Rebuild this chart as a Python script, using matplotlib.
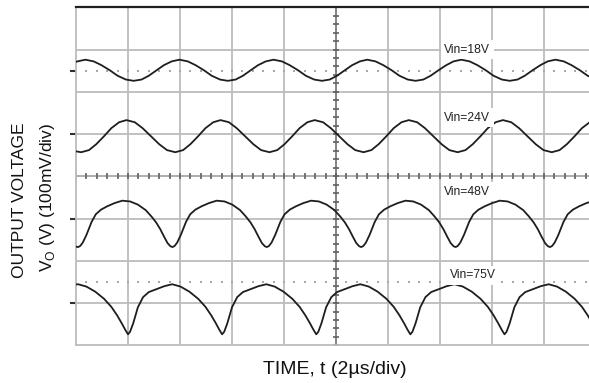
import numpy as np
import matplotlib
matplotlib.use('Agg')
import matplotlib.pyplot as plt

plt.rcParams['font.family'] = ['Liberation Sans', 'DejaVu Sans']

# ---- data (x in divisions: 1 div = 2 us ; y in divisions: 1 div = 100 mV) ----
labels = ['Vin=18V', 'Vin=24V', 'Vin=48V', 'Vin=75V']
ref_levels = [2.5, 1.0, -1.0, -3.0]

t1 = [0.00, 0.03, 0.18,
      0.34, 0.49, 0.65, 0.80, 0.96, 1.11, 1.26, 1.40, 1.55, 1.69, 1.84, 1.99,
      2.15, 2.30, 2.46, 2.61, 2.77, 2.92, 3.07, 3.21, 3.36, 3.50, 3.65, 3.80,
      3.96, 4.11, 4.27, 4.42, 4.58, 4.73, 4.88, 5.02, 5.17, 5.31, 5.46, 5.60,
      5.76, 5.91, 6.07, 6.22, 6.38, 6.53, 6.68, 6.82, 6.97, 7.12, 7.26, 7.41,
      7.57, 7.72, 7.88, 8.03, 8.19, 8.34, 8.49, 8.63, 8.78, 8.93, 9.07, 9.22,
      9.38, 9.53, 9.69, 9.84, 10.00]
v1 = [2.71, 2.72, 2.76,
      2.72, 2.63, 2.51, 2.38, 2.29, 2.26, 2.29, 2.38, 2.51, 2.63, 2.72, 2.76,
      2.72, 2.63, 2.51, 2.38, 2.29, 2.26, 2.29, 2.38, 2.51, 2.63, 2.72, 2.76,
      2.72, 2.63, 2.51, 2.38, 2.29, 2.26, 2.29, 2.38, 2.51, 2.63, 2.72, 2.76,
      2.72, 2.63, 2.51, 2.38, 2.29, 2.26, 2.29, 2.38, 2.51, 2.63, 2.72, 2.76,
      2.72, 2.63, 2.51, 2.38, 2.29, 2.26, 2.29, 2.38, 2.51, 2.63, 2.72, 2.76,
      2.72, 2.63, 2.51, 2.38, 2.29]

t2 = [0.00, 0.10, 0.25, 0.39, 0.54, 0.68, 0.83, 0.97,
      1.13, 1.28, 1.44, 1.60, 1.75, 1.91, 2.06, 2.20, 2.35, 2.49, 2.64, 2.78,
      2.94, 3.09, 3.25, 3.41, 3.56, 3.72, 3.87, 4.01, 4.16, 4.30, 4.45, 4.59,
      4.75, 4.90, 5.06, 5.22, 5.37, 5.53, 5.68, 5.82, 5.97, 6.11, 6.26, 6.40,
      6.56, 6.71, 6.87, 7.03, 7.18, 7.34, 7.49, 7.63, 7.78, 7.92, 8.07, 8.21,
      8.37, 8.52, 8.68, 8.84, 8.99, 9.15, 9.30, 9.44, 9.59, 9.73, 9.88, 10.00]
v2 = [0.59, 0.57, 0.62, 0.76, 0.95, 1.14, 1.28, 1.33,
      1.28, 1.14, 0.95, 0.76, 0.62, 0.57, 0.62, 0.76, 0.95, 1.14, 1.28, 1.33,
      1.28, 1.14, 0.95, 0.76, 0.62, 0.57, 0.62, 0.76, 0.95, 1.14, 1.28, 1.33,
      1.28, 1.14, 0.95, 0.76, 0.62, 0.57, 0.62, 0.76, 0.95, 1.14, 1.28, 1.33,
      1.28, 1.14, 0.95, 0.76, 0.62, 0.57, 0.62, 0.76, 0.95, 1.14, 1.28, 1.33,
      1.28, 1.14, 0.95, 0.76, 0.62, 0.57, 0.62, 0.76, 0.95, 1.14, 1.28, 1.33]

t3 = [0.00,
      0.04, 0.08, 0.13, 0.20, 0.30, 0.38, 0.48, 0.60, 0.74, 0.89,
      1.04, 1.19, 1.34, 1.45, 1.54, 1.62, 1.69, 1.76, 1.815,
      1.855, 1.895, 1.945, 2.015, 2.115, 2.195, 2.295, 2.415, 2.555, 2.705,
      2.855, 3.005, 3.155, 3.265, 3.355, 3.435, 3.505, 3.575, 3.63,
      3.67, 3.71, 3.76, 3.83, 3.93, 4.01, 4.11, 4.23, 4.37, 4.52,
      4.67, 4.82, 4.97, 5.08, 5.17, 5.25, 5.32, 5.39, 5.445,
      5.485, 5.525, 5.575, 5.645, 5.745, 5.825, 5.925, 6.045, 6.185, 6.335,
      6.485, 6.635, 6.785, 6.895, 6.985, 7.065, 7.135, 7.205, 7.26,
      7.30, 7.34, 7.39, 7.46, 7.56, 7.64, 7.74, 7.86, 8.00, 8.15,
      8.30, 8.45, 8.60, 8.71, 8.80, 8.88, 8.95, 9.02, 9.075,
      9.115, 9.155, 9.205, 9.275, 9.375, 9.455, 9.555, 9.675, 9.815, 9.965,
      10.00]
v3 = [-1.665,
      -1.675, -1.65, -1.57, -1.39, -1.08, -0.90, -0.79, -0.71, -0.635, -0.577,
      -0.595, -0.67, -0.80, -0.95, -1.09, -1.25, -1.42, -1.58, -1.655,
      -1.675, -1.65, -1.57, -1.39, -1.08, -0.90, -0.79, -0.71, -0.635, -0.577,
      -0.595, -0.67, -0.80, -0.95, -1.09, -1.25, -1.42, -1.58, -1.655,
      -1.675, -1.65, -1.57, -1.39, -1.08, -0.90, -0.79, -0.71, -0.635, -0.577,
      -0.595, -0.67, -0.80, -0.95, -1.09, -1.25, -1.42, -1.58, -1.655,
      -1.675, -1.65, -1.57, -1.39, -1.08, -0.90, -0.79, -0.71, -0.635, -0.577,
      -0.595, -0.67, -0.80, -0.95, -1.09, -1.25, -1.42, -1.58, -1.655,
      -1.675, -1.65, -1.57, -1.39, -1.08, -0.90, -0.79, -0.71, -0.635, -0.577,
      -0.595, -0.67, -0.80, -0.95, -1.09, -1.25, -1.42, -1.58, -1.655,
      -1.675, -1.65, -1.57, -1.39, -1.08, -0.90, -0.79, -0.71, -0.635, -0.577,
      -0.58]

t4 = [0.00,
      0.04, 0.20, 0.37, 0.54, 0.68, 0.79, 0.88, 0.95, 0.98,
      1.00, 1.04, 1.10, 1.19, 1.29, 1.40, 1.55, 1.70,
      1.85, 2.01, 2.18, 2.35, 2.49, 2.60, 2.69, 2.76, 2.79,
      2.81, 2.85, 2.91, 3.00, 3.10, 3.21, 3.36, 3.51,
      3.66, 3.82, 3.99, 4.16, 4.30, 4.41, 4.50, 4.57, 4.60,
      4.62, 4.66, 4.72, 4.81, 4.91, 5.02, 5.17, 5.32,
      5.47, 5.63, 5.80, 5.97, 6.11, 6.22, 6.31, 6.38, 6.41,
      6.43, 6.47, 6.53, 6.62, 6.72, 6.83, 6.98, 7.13,
      7.28, 7.44, 7.61, 7.78, 7.92, 8.03, 8.12, 8.19, 8.22,
      8.24, 8.28, 8.34, 8.43, 8.53, 8.64, 8.79, 8.94,
      9.09, 9.25, 9.42, 9.59, 9.73, 9.84, 9.93, 10.00]
v4 = [-2.56,
      -2.555, -2.61, -2.73, -2.90, -3.09, -3.29, -3.48, -3.64, -3.70,
      -3.74, -3.68, -3.48, -3.10, -2.86, -2.74, -2.67, -2.60,
      -2.555, -2.61, -2.73, -2.90, -3.09, -3.29, -3.48, -3.64, -3.70,
      -3.74, -3.68, -3.48, -3.10, -2.86, -2.74, -2.67, -2.60,
      -2.555, -2.61, -2.73, -2.90, -3.09, -3.29, -3.48, -3.64, -3.70,
      -3.74, -3.68, -3.48, -3.10, -2.86, -2.74, -2.67, -2.60,
      -2.555, -2.61, -2.73, -2.90, -3.09, -3.29, -3.48, -3.64, -3.70,
      -3.74, -3.68, -3.48, -3.10, -2.86, -2.74, -2.67, -2.60,
      -2.555, -2.61, -2.73, -2.90, -3.09, -3.29, -3.48, -3.64, -3.70,
      -3.74, -3.68, -3.48, -3.10, -2.86, -2.74, -2.67, -2.60,
      -2.555, -2.61, -2.73, -2.90, -3.09, -3.29, -3.48, -3.64]

label_pos = [(7.52, 3.0), (7.52, 1.38), (7.52, -0.36), (7.64, -2.34)]

# ---- figure ----
W, H = 589, 383
fig = plt.figure(figsize=(W / 100, H / 100), dpi=100)
ax = fig.add_axes([76 / W, (H - 345.3) / H, 520 / W, 338 / H])
ax.set_xlim(0, 10)
ax.set_ylim(-4, 4)

grid_c = '#bcbcbc'
for i in range(1, 10):
    if i != 5:
        ax.axvline(i, color=grid_c, lw=1.3, zorder=1)
for j in range(-3, 4):
    if j != 0:
        ax.axhline(j, color=grid_c, lw=1.3, zorder=1)

# centre cross with minor ticks
ax.axvline(5, color='#707070', lw=1.2, zorder=1.5)
ax.axhline(0, color='#a0a0a0', lw=1.2, zorder=1.5)
ys = np.arange(-4, 4.001, 0.2)
ax.plot(np.full_like(ys, 5), ys, ls='none', marker='_', ms=4, mew=1.2,
        color='#606060', zorder=1.6)
xs = np.arange(0, 10.001, 0.2)
ax.plot(xs, np.zeros_like(xs), ls='none', marker='|', ms=4, mew=1.2,
        color='#606060', zorder=1.6)

# dotted reference lines
xd = np.arange(0.2, 10, 0.2)
for yy in (2.5, -2.5):
    ax.plot(xd, np.full_like(xd, yy), ls='none', marker='s', ms=1.6, mew=0,
            color='#a8a8a8', zorder=1.4)

# traces
for t, v in ((t1, v1), (t2, v2), (t3, v3), (t4, v4)):
    ax.plot(t, v, color='#1e1e1e', lw=1.3, solid_joinstyle='round',
            solid_capstyle='round', zorder=3)

for lab, (x, y) in zip(labels, label_pos):
    ax.text(x, y, lab, ha='center', va='center', fontsize=8.7, color='#222222',
            zorder=4, bbox=dict(fc='white', ec='none', pad=2.5))

# spines & ticks
for s in ('left', 'bottom'):
    ax.spines[s].set_color(grid_c)
    ax.spines[s].set_linewidth(1.3)
ax.spines['top'].set_color('#202020')
ax.spines['top'].set_linewidth(1.6)
ax.spines['right'].set_visible(False)
ax.set_xticks([])
ax.set_yticks(ref_levels)
ax.set_yticklabels([])
ax.tick_params(axis='y', direction='out', length=4, width=1.5, color='#303030', pad=0)

fig.text(20 / W, 1 - 200 / H, 'OUTPUT VOLTAGE', rotation=90, ha='center',
         va='center', fontsize=12.5, color='#111111')
fig.text(48 / W, 1 - 197 / H, 'V$_\\mathregular{O}$ (V) (100mV/div)', rotation=90,
         ha='center', va='center', fontsize=12.5, color='#111111')
fig.text(335 / W, 1 - 369 / H, 'TIME, t (2\u00b5s/div)', ha='center', va='center',
         fontsize=14, color='#111111')

fig.savefig('out.png', dpi=100)
